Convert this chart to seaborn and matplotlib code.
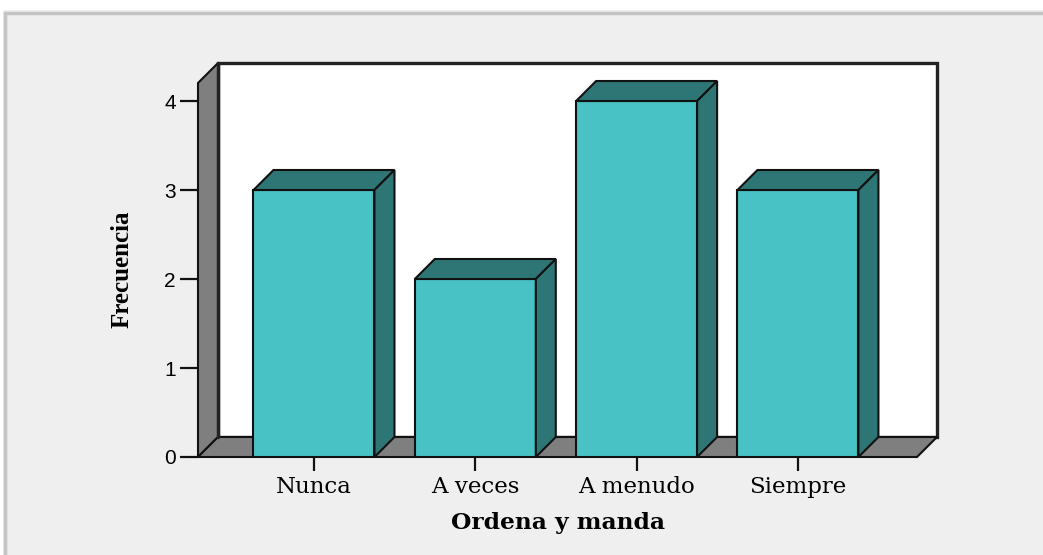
import matplotlib
matplotlib.use("Agg")
import matplotlib.pyplot as plt
from matplotlib.patches import Polygon, Rectangle
from matplotlib.lines import Line2D
import seaborn as sns
import pandas as pd

categories = ["Nunca", "A veces", "A menudo", "Siempre"]
frecuencia = [3, 2, 4, 3]
y_ticks = [0, 1, 2, 3, 4]

face_col = "#48c2c5"
dark_col = "#2e7675"
wall_col = "#7f7f7f"
bg_col = "#efefef"

W, H = 1043, 555
sns.set_theme(style="white")
plt.rcParams.update({"text.color": "black", "axes.labelcolor": "black",
                     "xtick.color": "black", "ytick.color": "black"})
fig = plt.figure(figsize=(W / 100, H / 100), dpi=100, facecolor=bg_col)

# outer frame like the SPSS viewer
fig.add_artist(Rectangle((0, 1 - 10 / H), 1, 10 / H, transform=fig.transFigure,
                         facecolor="white", edgecolor="none"))
fig.add_artist(Rectangle((0, 0), 3 / W, 1, transform=fig.transFigure,
                         facecolor="white", edgecolor="none"))
fig.add_artist(Line2D([4.5 / W, 1], [1 - 12.5 / H] * 2, transform=fig.transFigure,
                      color="#c4c4c4", lw=2.5))
fig.add_artist(Line2D([4.5 / W] * 2, [0, 1 - 12.5 / H], transform=fig.transFigure,
                      color="#c4c4c4", lw=2.5))

# axes covering the whole 3d box (front plane + depth)
ax_l, ax_r, ax_t, ax_b = 198, 937, 63, 457
ax = fig.add_axes([ax_l / W, (H - ax_b) / H, (ax_r - ax_l) / W, (ax_b - ax_t) / H])
ax.set_facecolor("none")

xlim = (-0.719, 3.862)
ylim = (0, 4.427)
depth_px = 20
ddx = depth_px * (xlim[1] - xlim[0]) / (ax_r - ax_l)
ddy = depth_px * (ylim[1] - ylim[0]) / (ax_b - ax_t)
x0, x1 = xlim[0], xlim[1] - ddx
ytop = ylim[1] - ddy

df = pd.DataFrame({"cat": categories, "val": frecuencia})
sns.barplot(data=df, x="cat", y="val", color=face_col, saturation=1, width=0.75,
            edgecolor="#111111", linewidth=1.5, ax=ax, zorder=3)

# back wall, left wall, floor
ax.add_patch(Rectangle((x0 + ddx, ddy), x1 - x0, ytop, facecolor="white",
                       edgecolor="#222222", lw=2.4, zorder=0.5, clip_on=False))
ax.add_patch(Polygon([(x0, 0), (x0, ytop), (x0 + ddx, ytop + ddy), (x0 + ddx, ddy)],
                     closed=True, facecolor=wall_col, edgecolor="#111111", lw=1.5,
                     zorder=1, clip_on=False))
ax.add_patch(Polygon([(x0, 0), (x1, 0), (x1 + ddx, ddy), (x0 + ddx, ddy)],
                     closed=True, facecolor=wall_col, edgecolor="#111111", lw=1.5,
                     zorder=1, clip_on=False))
ax.plot([x0 + ddx, x0 + ddx], [ddy, ytop + ddy], color="#222222", lw=2.4, zorder=1.5,
        clip_on=False)

# tops and sides of the bars
for bar in ax.patches:
    if not isinstance(bar, Rectangle) or bar.get_zorder() != 3:
        continue
    bx, bw, bh = bar.get_x(), bar.get_width(), bar.get_height()
    top = Polygon([(bx, bh), (bx + bw, bh), (bx + bw + ddx, bh + ddy), (bx + ddx, bh + ddy)],
                  closed=True, facecolor=dark_col, edgecolor="#111111", lw=1.5, zorder=3)
    side = Polygon([(bx + bw, 0), (bx + bw, bh), (bx + bw + ddx, bh + ddy), (bx + bw + ddx, ddy)],
                   closed=True, facecolor=dark_col, edgecolor="#111111", lw=1.5, zorder=3)
    ax.add_patch(top)
    ax.add_patch(side)

ax.set_xlim(*xlim)
ax.set_ylim(*ylim)
for s in ax.spines.values():
    s.set_visible(False)

ax.set_yticks(y_ticks)
ax.tick_params(axis="y", direction="out", length=13, width=1.6, color="#111111",
               pad=3, labelsize=15, left=True, labelcolor="black")
ax.tick_params(axis="x", direction="out", length=10, width=1.6, color="#111111",
               pad=4, labelsize=16.5, bottom=True, labelcolor="black")
for lab in ax.get_yticklabels():
    lab.set_fontfamily("Liberation Sans")
for lab in ax.get_xticklabels():
    lab.set_fontfamily("DejaVu Serif")

ax.set_xlabel("Ordena y manda", fontfamily="DejaVu Serif", fontweight="bold",
              fontsize=16.8, va="center", color="black")
ax.xaxis.set_label_coords(0.487, -0.1675)
ax.set_ylabel("Frecuencia", fontfamily="Liberation Serif", fontweight="bold",
              fontsize=18, va="center", color="black")
ax.yaxis.set_label_coords(-0.103, 0.477)

fig.savefig("out.png", dpi=100, facecolor=fig.get_facecolor())
